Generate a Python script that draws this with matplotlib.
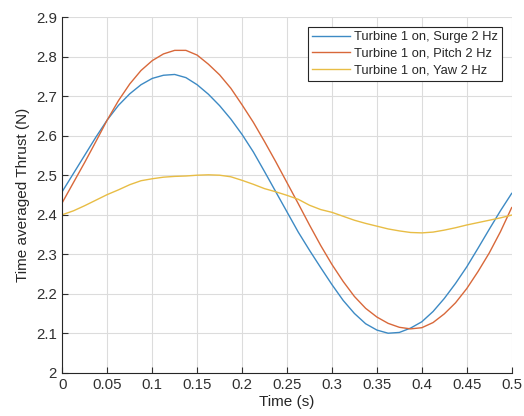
import numpy as np
import matplotlib
matplotlib.use('Agg')
import matplotlib.pyplot as plt

# time samples (s), every 0.0125 s over one 2 Hz period
time_s = [0.0, 0.0125, 0.025, 0.0375, 0.05, 0.0625, 0.075, 0.0875, 0.1, 0.1125,
          0.125, 0.1375, 0.15, 0.1625, 0.175, 0.1875, 0.2, 0.2125, 0.225, 0.2375,
          0.25, 0.2625, 0.275, 0.2875, 0.3, 0.3125, 0.325, 0.3375, 0.35, 0.3625,
          0.375, 0.3875, 0.4, 0.4125, 0.425, 0.4375, 0.45, 0.4625, 0.475, 0.4875, 0.5]

# time-averaged thrust (N)
surge = [2.459, 2.505, 2.551, 2.597, 2.640, 2.677, 2.706, 2.729, 2.745, 2.753,
         2.755, 2.747, 2.729, 2.705, 2.676, 2.642, 2.603, 2.559, 2.509, 2.458,
         2.407, 2.356, 2.310, 2.266, 2.223, 2.183, 2.150, 2.124, 2.108, 2.100,
         2.102, 2.113, 2.129, 2.155, 2.188, 2.226, 2.268, 2.315, 2.363, 2.410, 2.454]
pitch = [2.431, 2.482, 2.533, 2.586, 2.640, 2.689, 2.731, 2.765, 2.790, 2.807,
         2.816, 2.816, 2.804, 2.781, 2.754, 2.720, 2.678, 2.634, 2.585, 2.534,
         2.481, 2.428, 2.374, 2.322, 2.274, 2.231, 2.193, 2.163, 2.141, 2.125,
         2.115, 2.111, 2.114, 2.127, 2.149, 2.177, 2.213, 2.256, 2.303, 2.357, 2.418]
yaw = [2.400, 2.410, 2.423, 2.437, 2.451, 2.463, 2.476, 2.486, 2.491, 2.495,
       2.497, 2.498, 2.500, 2.501, 2.500, 2.496, 2.487, 2.477, 2.466, 2.458,
       2.449, 2.439, 2.424, 2.413, 2.406, 2.396, 2.386, 2.378, 2.371, 2.364,
       2.359, 2.355, 2.354, 2.356, 2.361, 2.367, 2.374, 2.380, 2.386, 2.392, 2.399]
labels = ['Turbine 1 on, Surge 2 Hz', 'Turbine 1 on, Pitch 2 Hz', 'Turbine 1 on, Yaw 2 Hz']

colors = ['#3d8ac4', '#d8683a', '#e8bd45']
text_color = '#262626'

plt.rcParams['font.family'] = ['Liberation Sans', 'DejaVu Sans']

fig = plt.figure(figsize=(5.24, 4.16), dpi=100)
ax = fig.add_axes([0.119, 0.104, 0.8575, 0.8547])

for y, c, lab in zip([surge, pitch, yaw], colors, labels):
    ax.plot(time_s, y, color=c, linewidth=1.0, label=lab)

ax.set_xlim(0, 0.5)
ax.set_ylim(2, 2.9)
ax.set_xticks(np.arange(0, 0.51, 0.05))
ax.set_xticklabels(['0', '0.05', '0.1', '0.15', '0.2', '0.25', '0.3', '0.35', '0.4', '0.45', '0.5'])
ax.set_yticks(np.arange(2, 2.91, 0.1))
ax.set_yticklabels(['2', '2.1', '2.2', '2.3', '2.4', '2.5', '2.6', '2.7', '2.8', '2.9'])

ax.grid(True, color='#dcdcdc', linewidth=0.8)
ax.set_axisbelow(True)
for side in ['top', 'right']:
    ax.spines[side].set_visible(False)
for side in ['left', 'bottom']:
    ax.spines[side].set_color(text_color)
    ax.spines[side].set_linewidth(0.8)
ax.tick_params(direction='in', length=4, width=0.8, colors='#303030', labelsize=10.8, pad=4)

ax.set_xlabel('Time (s)', fontsize=11, color=text_color, labelpad=2)
ax.set_ylabel('Time averaged Thrust (N)', fontsize=11, color=text_color, labelpad=4)

leg = ax.legend(loc='upper right', fontsize=9.3, fancybox=False, framealpha=1,
                edgecolor=text_color, handlelength=2.9, borderaxespad=0.75,
                borderpad=0.35, labelspacing=0.35, handletextpad=0.3)
leg.get_frame().set_linewidth(0.8)
for t in leg.get_texts():
    t.set_color(text_color)

fig.savefig('out.png', dpi=100)
